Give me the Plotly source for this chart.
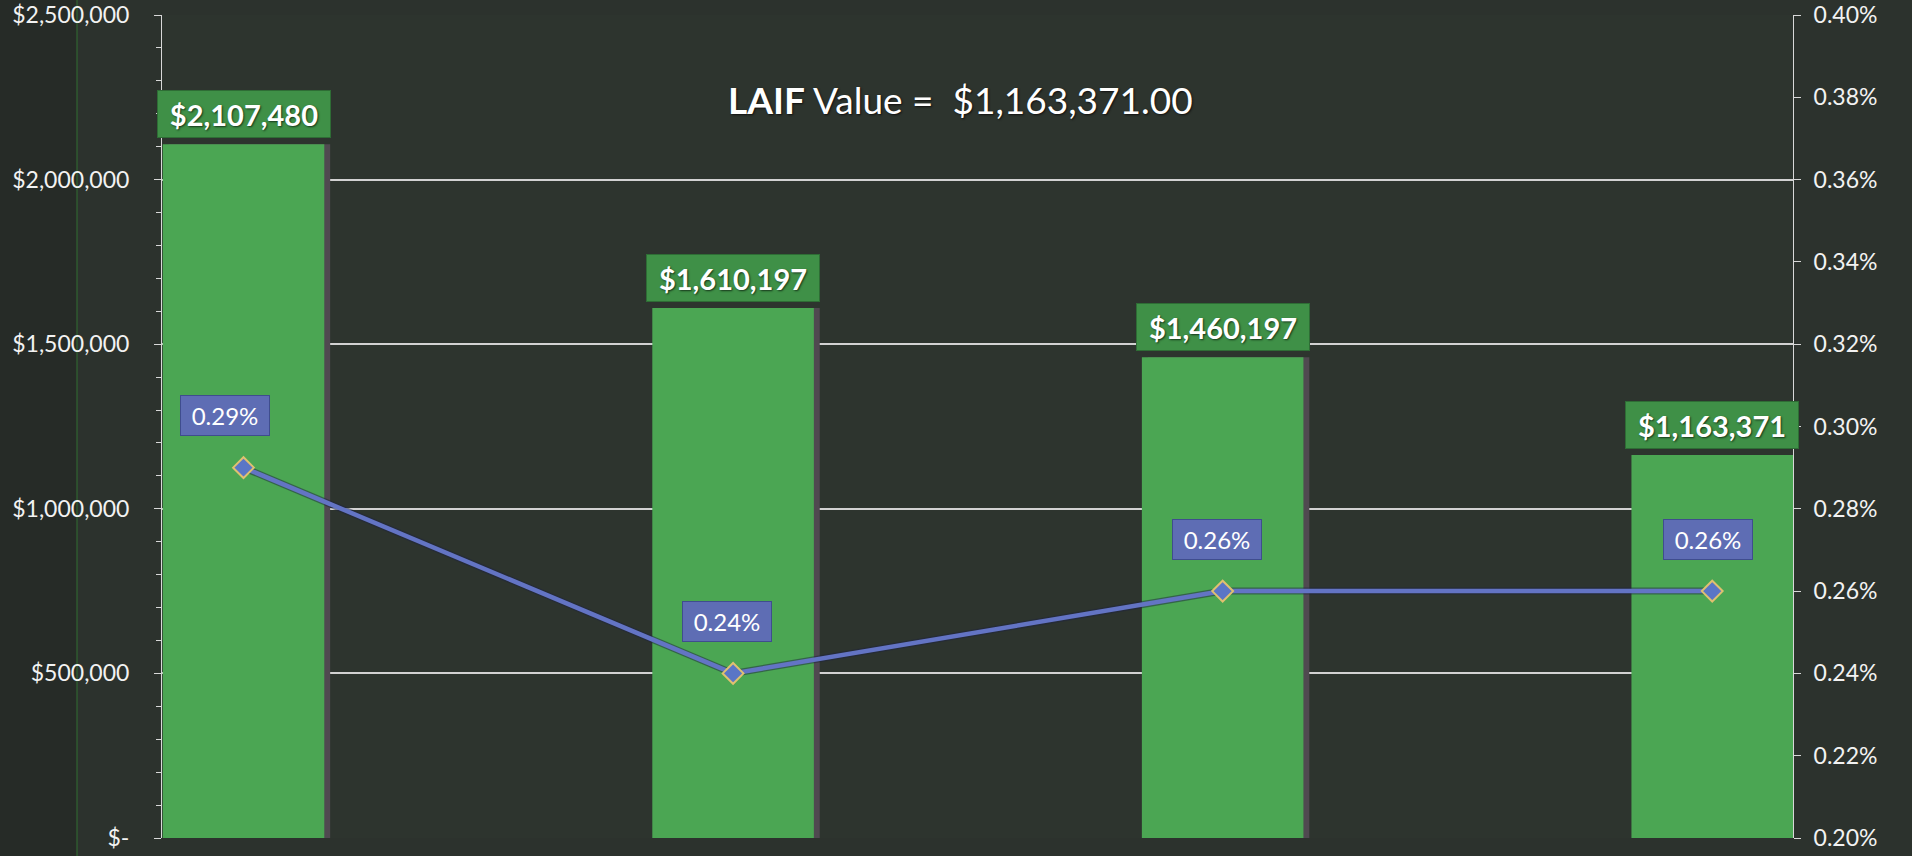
import plotly.graph_objects as go

categories = ["Q1", "Q2", "Q3", "Q4"]
laif_values = [2107480, 1610197, 1460197, 1163371]
yield_pct = [0.29, 0.24, 0.26, 0.26]
title_value = "$1,163,371.00"
left_tickvals = [0, 500000, 1000000, 1500000, 2000000, 2500000]
left_ticktext = ["$-", "$500,000", "$1,000,000", "$1,500,000", "$2,000,000", "$2,500,000"]
right_tickvals = [0.20, 0.22, 0.24, 0.26, 0.28, 0.30, 0.32, 0.34, 0.36, 0.38, 0.40]

# label placement tweaks (pixels), kept apart from the data
pct_label_xshift = [-19, -6, -6, -4]

PAPER = "#2c322d"
PLOT = "#2d342e"
BAR = "#4ba653"
LINE = "#6374c4"
FONT = "Lato"
BAR_W = 0.33

fig = go.Figure()
# bar shadow
fig.add_trace(go.Bar(
    x=categories, y=laif_values, width=BAR_W, offset=-BAR_W / 2 + 0.012,
    marker=dict(color="#504950", line=dict(width=0)),
    yaxis="y", hoverinfo="skip", showlegend=False,
))
fig.add_trace(go.Bar(
    x=categories, y=laif_values, width=BAR_W, offset=-BAR_W / 2,
    marker=dict(color=BAR, line=dict(width=0)),
    yaxis="y", hoverinfo="skip", showlegend=False,
))
fig.add_trace(go.Scatter(
    x=categories, y=yield_pct, yaxis="y2", mode="lines",
    line=dict(color="#1f2440", width=7),
    hoverinfo="skip", showlegend=False, opacity=0.5,
))
fig.add_trace(go.Scatter(
    x=categories, y=yield_pct, yaxis="y2", mode="lines+markers",
    line=dict(color=LINE, width=4.5),
    marker=dict(symbol="diamond", size=16, color="#5a76c6",
                line=dict(color="#e0c070", width=2)),
    hoverinfo="skip", showlegend=False,
))

for c, v in zip(categories, laif_values):
    fig.add_annotation(
        x=c, y=v, xref="x", yref="y", yanchor="bottom", yshift=6,
        text="<b>${:,}</b>".format(v), showarrow=False,
        font=dict(family=FONT, size=29, color="white", shadow="1px 1px 2px #16361a"),
        bgcolor="#3f9047", bordercolor="#2e6d35", borderwidth=1,
        width=164, height=38, borderpad=4,
    )

for c, p, dx in zip(categories, yield_pct, pct_label_xshift):
    fig.add_annotation(
        x=c, y=p, xref="x", yref="y2", yanchor="middle", yshift=52, xshift=dx,
        text="{:.2f}%".format(p), showarrow=False,
        font=dict(family=FONT, size=24, color="white"),
        bgcolor="#5e6db4", bordercolor="#3f4d8e", borderwidth=1,
        width=80, height=31, borderpad=4,
    )

fig.add_annotation(
    x=0.4895, y=0.897, xref="paper", yref="paper", xanchor="center", yanchor="middle",
    showarrow=False,
    text="<b>LAIF</b> Value =  " + title_value,
    font=dict(family=FONT, size=37, color="white", shadow="1px 1px 2px #111"),
)

# darker left strip of the slide background
fig.add_shape(type="rect", xref="paper", yref="paper",
              x0=-0.2, x1=-0.0521, y0=-0.1, y1=1.1, layer="below",
              fillcolor="#262b27", line=dict(width=0))
fig.add_shape(type="line", xref="paper", yref="paper",
              x0=-0.0521, x1=-0.0521, y0=-0.1, y1=1.1, layer="below",
              line=dict(color="#2f5a30", width=1.5))

fig.update_layout(
    width=1912, height=856,
    paper_bgcolor=PAPER, plot_bgcolor=PLOT,
    margin=dict(l=162, r=119, t=15, b=18, autoexpand=False),
    barmode="overlay",
    xaxis=dict(type="category", range=[-0.1665, 3.165], showticklabels=False,
               showgrid=False, zeroline=False, showline=False, ticks=""),
    yaxis=dict(range=[0, 2500000], tickvals=left_tickvals, ticktext=left_ticktext,
               showgrid=True, gridcolor="#d2d2d2", gridwidth=2,
               showline=True, linecolor="#d8d8d8", linewidth=1,
               ticks="outside", ticklen=7, tickcolor="#d8d8d8",
               minor=dict(dtick=100000, ticks="outside", ticklen=5, tickcolor="#d8d8d8", showgrid=False),
               ticklabelstandoff=20, zeroline=False, automargin=False,
               tickfont=dict(family=FONT, size=23, color="#f2f2f2")),
    yaxis2=dict(range=[0.20, 0.40], overlaying="y", side="right",
                tickvals=right_tickvals, ticktext=["{:.2f}%".format(t) for t in right_tickvals],
                showgrid=False, zeroline=False,
                showline=True, linecolor="#d8d8d8", linewidth=1,
                ticks="outside", ticklen=7, tickcolor="#d8d8d8",
                ticklabelstandoff=8, automargin=False,
                tickfont=dict(family=FONT, size=23, color="#f2f2f2")),
)

fig.write_html(
    "out.html",
    config={"displayModeBar": False},
    post_script="document.body.style.margin='0';document.body.style.background='" + PAPER + "';",
)
